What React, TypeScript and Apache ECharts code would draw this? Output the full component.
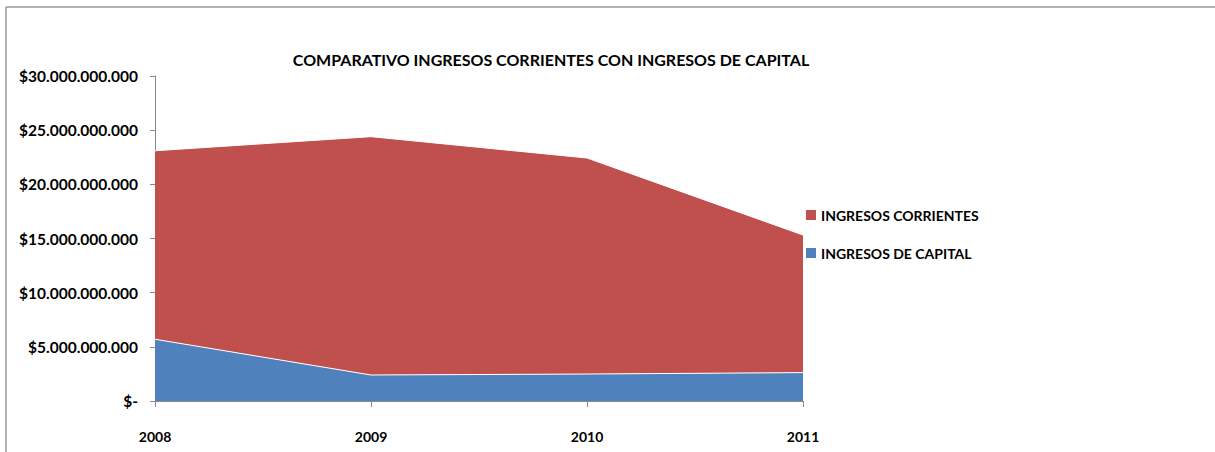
import React, { useEffect, useRef } from "react";
import * as echarts from "echarts";

const years = ["2008", "2009", "2010", "2011"];
const ingresosCapital = [5.7e9, 2.4e9, 2.49e9, 2.62e9];
const ingresosCorrientes = [17.4e9, 22.0e9, 19.94e9, 12.7e9];
const seriesNames = ["INGRESOS CORRIENTES", "INGRESOS DE CAPITAL"];
const chartTitle = "COMPARATIVO INGRESOS CORRIENTES CON INGRESOS DE CAPITAL";

const FONT = "Lato";

function fmt(v: number): string {
  if (v === 0) return "$-";
  return "$" + Math.round(v).toString().replace(/\B(?=(\d{3})+(?!\d))/g, ".");
}

export default function App() {
  const ref = useRef<HTMLDivElement>(null);
  useEffect(() => {
    if (!ref.current) return;
    const chart = echarts.init(ref.current, null, { renderer: "svg" });
    chart.setOption({
      animation: false,
      backgroundColor: "#ffffff",
      title: {
        text: chartTitle,
        left: 546,
        textAlign: "center",
        top: 46,
        textStyle: { fontFamily: FONT, fontWeight: "bold", fontSize: 16, color: "#000" },
      },
      graphic: [
        {
          type: "line",
          shape: { x1: 6, y1: 7, x2: 1215, y2: 7 },
          style: { stroke: "#999", lineWidth: 1.5 },
          silent: true,
        },
        {
          type: "line",
          shape: { x1: 6, y1: 7, x2: 6, y2: 452 },
          style: { stroke: "#999", lineWidth: 1.5 },
          silent: true,
        },
      ],
      legend: {
        orient: "vertical",
        left: 806,
        top: 208,
        padding: 0,
        itemWidth: 10,
        itemHeight: 10,
        itemGap: 24,
        icon: "rect",
        data: [seriesNames[0], seriesNames[1]],
        textStyle: { fontFamily: FONT, fontWeight: "bold", fontSize: 14, color: "#000" },
      },
      grid: { left: 155, top: 76, width: 648, bottom: 51, containLabel: false },
      xAxis: {
        type: "category",
        data: years,
        boundaryGap: false,
        axisLine: { lineStyle: { color: "#888", width: 1 } },
        axisTick: { show: true, length: 6, lineStyle: { color: "#888" } },
        axisLabel: { margin: 28, fontFamily: FONT, fontWeight: "bold", fontSize: 14, color: "#000" },
        splitLine: { show: false },
      },
      yAxis: {
        type: "value",
        min: 0,
        max: 30e9,
        interval: 5e9,
        axisLine: { show: true, lineStyle: { color: "#888", width: 1 } },
        axisTick: { show: true, length: 5, lineStyle: { color: "#888" } },
        axisLabel: {
          margin: 17,
          formatter: (v: number) => fmt(v),
          fontFamily: FONT,
          fontWeight: "bold",
          fontSize: 15.5,
          color: "#000",
        },
        splitLine: { show: false },
      },
      series: [
        {
          name: seriesNames[1],
          type: "line",
          stack: "total",
          data: ingresosCapital,
          symbol: "none",
          lineStyle: { color: "#ffffff", width: 1 },
          itemStyle: { color: "#4F81BD" },
          areaStyle: { color: "#4F81BD", opacity: 1 },
        },
        {
          name: seriesNames[0],
          type: "line",
          stack: "total",
          data: ingresosCorrientes,
          symbol: "none",
          lineStyle: { color: "#ffffff", width: 1 },
          itemStyle: { color: "#C0504D" },
          areaStyle: { color: "#C0504D", opacity: 1 },
        },
      ],
    });
    return () => chart.dispose();
  }, []);
  return (
    <div
      ref={ref}
      style={{ position: "fixed", left: 0, top: 0, width: 1215, height: 452 }}
    />
  );
}
